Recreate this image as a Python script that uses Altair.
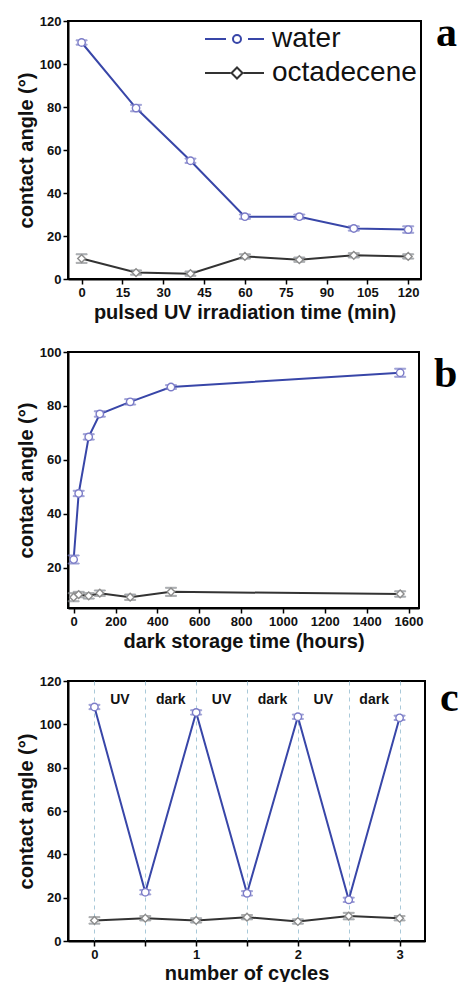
import altair as alt
import pandas as pd

series = ["water", "octadecene"]
line_colors = ["#3846a8", "#333333"]
marker_colors = ["#7c7cc8", "#8c8c8c"]

# ---- panel a : pulsed UV irradiation ----
a_time = [0, 20, 40, 60, 80, 100, 120]
a_water = [110, 79.5, 55, 29, 29, 23.5, 23]
a_water_err = [1, 1.5, 1, 1, 1, 1, 1.5]
a_oct = [9.5, 3, 2.5, 10.5, 9, 11, 10.5]
a_oct_err = [2, 1, 1, 1, 1, 1, 1]

# ---- panel b : dark storage ----
b_time = [0, 24, 72, 125, 270, 465, 1560]
b_water = [23, 47.5, 68.5, 77, 81.5, 87, 92.3]
b_water_err = [1.5, 1, 1, 1, 1, 0.7, 1.5]
b_oct = [9, 10, 9.5, 10.5, 9, 11, 10.2]
b_oct_err = [1.5, 1, 1, 1, 1, 1.5, 1]

# ---- panel c : cycles ----
c_cycle = [0, 0.5, 1, 1.5, 2, 2.5, 3]
c_water = [108, 22.5, 105.5, 22, 103.5, 19, 103]
c_water_err = [1, 1, 1, 1, 1, 1, 1]
c_oct = [9.5, 10.5, 9.5, 11, 9, 11.5, 10.5]
c_oct_err = [1.5, 1, 1, 1, 1, 1.5, 1]
phase_labels = ["UV", "dark", "UV", "dark", "UV", "dark"]

panel_letters = ["a", "b", "c"]

FONT = "Liberation Sans"

WATER_SYM = ("M-6.4,0L-2.2,0M2.2,0L5.4,0"
             "M0.8,0A0.8,0.8,0,1,1,-0.8,0A0.8,0.8,0,1,1,0.8,0")
OCT_SYM = ("M-6.4,0L-1.3,0M1.3,0L5.4,0"
           "M0,-1.1L1.1,0L0,1.1L-1.1,0Z")


def long_df(x, w, we, o, oe):
    rows = []
    for xi, v, e in zip(x, w, we):
        rows.append({"x": xi, "series": "water", "v": v, "lo": v - e, "hi": v + e})
    for xi, v, e in zip(x, o, oe):
        rows.append({"x": xi, "series": "octadecene", "v": v, "lo": v - e, "hi": v + e})
    return pd.DataFrame(rows)


def panel(df, xdom, ydom, xaxis, yaxis, w, h, letter, letter_y, legend=None, extra=None):
    xs = alt.Scale(domain=xdom, nice=False, zero=False)
    ys = alt.Scale(domain=ydom, nice=False, zero=False)
    X = alt.X("x:Q", scale=xs, axis=xaxis)
    Y = alt.Y("v:Q", scale=ys, axis=yaxis)
    cscale = alt.Scale(domain=series, range=line_colors)
    color = alt.Color("series:N", scale=cscale, legend=legend)
    stroke = alt.Stroke("series:N", scale=alt.Scale(domain=series, range=marker_colors),
                        legend=None)
    base = alt.Chart(df)
    line = base.mark_line(strokeWidth=2).encode(x=X, y=Y, color=color)
    err = base.mark_rule(strokeWidth=1).encode(
        x=X, y=alt.Y("lo:Q", scale=ys, axis=yaxis), y2="hi:Q", stroke=stroke)
    cap_lo = base.mark_tick(orient="horizontal", size=11, thickness=1).encode(
        x=X, y=alt.Y("lo:Q", scale=ys, axis=yaxis), stroke=stroke)
    cap_hi = base.mark_tick(orient="horizontal", size=11, thickness=1).encode(
        x=X, y=alt.Y("hi:Q", scale=ys, axis=yaxis), stroke=stroke)
    pts_w = base.transform_filter(alt.datum.series == "water").mark_point(
        shape="circle", filled=True, fill="white", size=55, strokeWidth=1.4, opacity=1).encode(
        x=X, y=Y, stroke=stroke)
    pts_o = base.transform_filter(alt.datum.series == "octadecene").mark_point(
        shape="diamond", filled=True, fill="white", size=60, strokeWidth=1.4, opacity=1).encode(
        x=X, y=Y, stroke=stroke)
    lab = alt.Chart(pd.DataFrame({"t": [letter]})).mark_text(
        font="Liberation Serif", fontWeight="bold", fontSize=42, align="left",
        baseline="alphabetic", color="black").encode(
        text="t:N", x=alt.value(w + 15), y=alt.value(letter_y))
    layers = []
    if extra is not None:
        layers.append(extra(xs, ys))
    layers += [line, err, cap_lo, cap_hi, pts_w, pts_o, lab]
    if legend is not None:
        dummy = base.transform_filter("false").mark_point(filled=False, strokeWidth=2).encode(
            x=X, y=Y, color=alt.Color("series:N", scale=cscale, legend=legend),
            shape=alt.Shape("series:N", scale=alt.Scale(domain=series, range=[WATER_SYM, OCT_SYM]),
                            legend=legend))
        layers.append(dummy)
    return alt.layer(*layers).properties(
        width=w, height=h,
        view=alt.ViewBackground(stroke="#000000", strokeWidth=2, fill="white"))


def axis(title, values, grid=False, label_expr="format(datum.value, 'd')", **kw):
    args = dict(title=title, values=values, grid=grid, tickSize=5, tickWidth=1.5,
                tickColor="black", labelFont=FONT, labelFontWeight="bold", labelFontSize=13,
                labelColor="#111111", titleFont=FONT, titleFontWeight="bold", titleFontSize=20,
                titleColor="#111111", domain=True, domainColor="black", domainWidth=2,
                labelPadding=2, titlePadding=3, labelExpr=label_expr)
    args.update(kw)
    return alt.Axis(**args)


yticks_120 = [0, 20, 40, 60, 80, 100, 120]

legend_a = alt.Legend(
    title=None, orient="none", legendX=155, legendY=4, direction="vertical",
    labelFont=FONT, labelFontSize=28, labelColor="#111111", labelOffset=21,
    symbolSize=100, symbolStrokeWidth=2, rowPadding=6, symbolOpacity=1,
    symbolFillColor="white")

pa = panel(long_df(a_time, a_water, a_water_err, a_oct, a_oct_err),
           [-5, 124.7], [0, 120],
           axis("pulsed UV irradiation time (min)", list(range(0, 121, 15))),
           axis("contact angle (°)", yticks_120),
           353, 258, panel_letters[0], 25, legend=legend_a)

pb = panel(long_df(b_time, b_water, b_water_err, b_oct, b_oct_err),
           [-27, 1650], [5, 100],
           axis("dark storage time (hours)", list(range(0, 1601, 200))),
           axis("contact angle (°)", [20, 40, 60, 80, 100]),
           351, 256, panel_letters[1], 35)

phase_x = [(c_cycle[i] + c_cycle[i + 1]) / 2 for i in range(len(c_cycle) - 1)]


def c_extra(xs, ys):
    return alt.Chart(pd.DataFrame({"x": phase_x, "t": phase_labels})).mark_text(
        font=FONT, fontWeight="bold", fontSize=14, color="#111111", baseline="middle").encode(
        x=alt.X("x:Q", scale=xs), y=alt.value(19), text="t:N")


pc = panel(long_df(c_cycle, c_water, c_water_err, c_oct, c_oct_err),
           [-0.26, 3.25], [0, 120],
           axis("number of cycles", c_cycle, grid=True,
                label_expr="datum.value % 1 == 0 ? format(datum.value, 'd') : ''",
                gridDash=[4, 4], gridColor="#a9c9d9", gridWidth=1, titlePadding=2),
           axis("contact angle (°)", yticks_120),
           357, 260, panel_letters[2], 30, extra=c_extra)

chart = alt.vconcat(pa, pb, pc, spacing=22).properties(
    padding={"left": 15, "top": 11, "right": 0, "bottom": 0}
).configure(background="white").configure_view(stroke="#000000", strokeWidth=2)

chart.save("out.html", embed_options={"renderer": "svg", "actions": False})
